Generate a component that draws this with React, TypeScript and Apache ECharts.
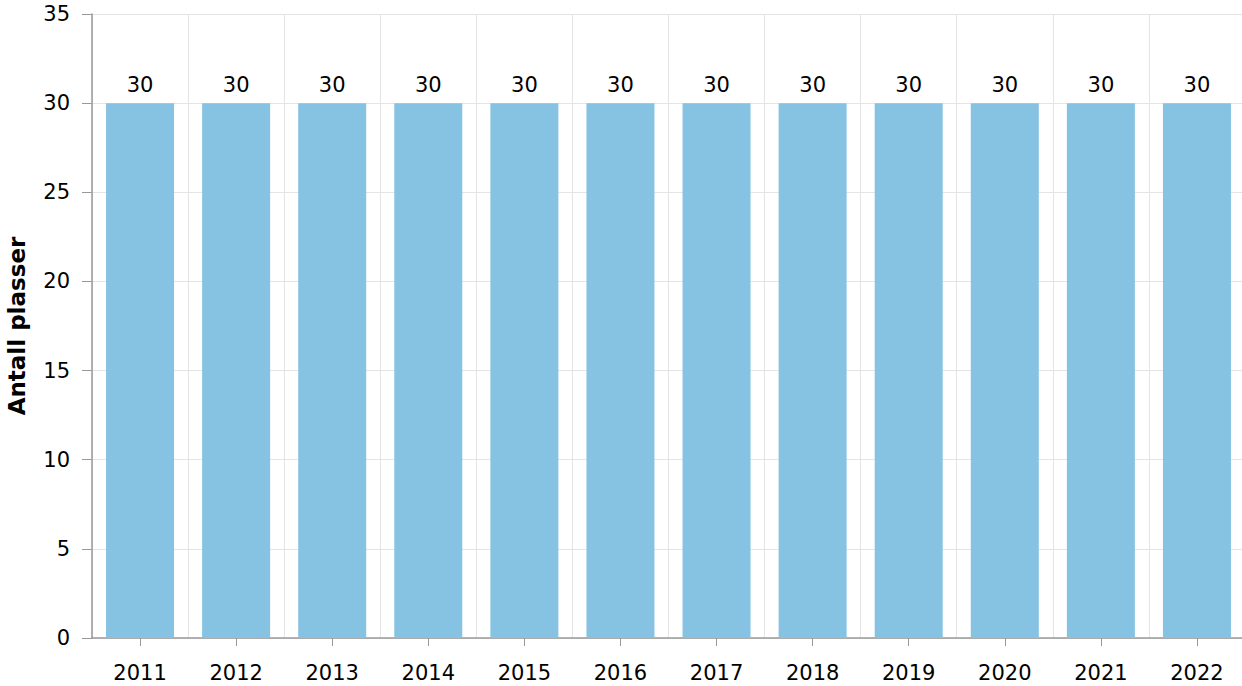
import React, { useEffect, useRef } from "react";
import * as echarts from "echarts";

const categories = ["2011", "2012", "2013", "2014", "2015", "2016", "2017", "2018", "2019", "2020", "2021", "2022"];
const values = [30, 30, 30, 30, 30, 30, 30, 30, 30, 30, 30, 30];
const yAxisTitle = "Antall plasser";

export default function App() {
  const ref = useRef<HTMLDivElement>(null);
  useEffect(() => {
    if (!ref.current) return;
    const chart = echarts.init(ref.current, null, { renderer: "svg" });
    const font = "'DejaVu Sans', Verdana, sans-serif";
    chart.setOption({
      animation: false,
      textStyle: { fontFamily: font },
      grid: { left: 92, right: -3, top: 14, bottom: 48, containLabel: false, outerBoundsMode: "none" },
      xAxis: {
        type: "category",
        data: categories,
        axisLine: { show: true, lineStyle: { color: "#999999", width: 1.5 } },
        axisTick: { show: true, alignWithLabel: true, length: 8, lineStyle: { color: "#999999" } },
        axisLabel: { color: "#000", fontSize: 21, margin: 24, fontFamily: font },
        splitLine: { show: true, lineStyle: { color: "#e4e4e4", width: 1 } },
      },
      yAxis: {
        type: "value",
        min: 0,
        max: 35,
        interval: 5,
        name: yAxisTitle,
        nameLocation: "middle",
        nameGap: 64,
        nameTextStyle: { color: "#000", fontSize: 23, fontWeight: "bold", fontFamily: font },
        axisLine: { show: true, lineStyle: { color: "#999999", width: 1.5 } },
        axisTick: { show: true, length: 10, lineStyle: { color: "#999999" } },
        axisLabel: { color: "#000", fontSize: 21, margin: 22, fontFamily: font },
        splitLine: { show: true, lineStyle: { color: "#e4e4e4", width: 1 } },
      },
      series: [
        {
          type: "bar",
          data: values,
          barWidth: 68,
          itemStyle: { color: "#86c3e2" },
          label: { show: true, position: "top", distance: 8, color: "#000", fontSize: 21, fontFamily: font },
        },
      ],
    });
    return () => chart.dispose();
  }, []);
  return <div ref={ref} style={{ width: 1242, height: 686, position: "absolute", left: 0, top: 0 }} />;
}
